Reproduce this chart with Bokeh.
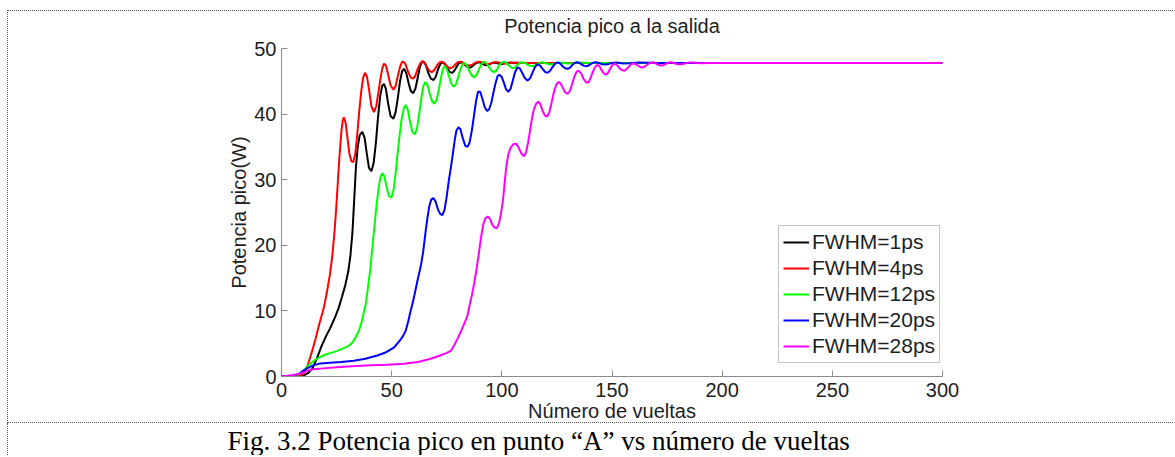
from bokeh.plotting import figure
from bokeh.models import Range1d, Legend, LegendItem, FixedTicker, LinearAxis
from bokeh.layouts import column
from bokeh.embed import file_html
from bokeh.resources import INLINE

# ---------------- data ----------------
x_ticks = [0, 50, 100, 150, 200, 250, 300]
y_ticks = [0, 10, 20, 30, 40, 50]

series_labels = ["FWHM=1ps", "FWHM=4ps", "FWHM=12ps", "FWHM=20ps", "FWHM=28ps"]
series_colors = ["#000000", "#ff0000", "#00ff00", "#0000ff", "#ff00ff"]

turns_1ps = [0, 5, 8, 10, 12, 14, 16, 18, 20, 22, 24, 26, 27.5, 29, 30.3, 31.3, 32.2, 33, 33.8, 34.6, 35.5, 36.7, 37.7, 38.7, 39.7, 40.8, 41.8, 42.8, 43.8, 44.8, 45.7, 46.5, 47.4, 48.4, 49.5, 50.8, 51.8, 52.8, 53.8, 54.7, 55.6, 56.6, 57.7, 58.7, 59.8, 60.8, 61.8, 62.8, 63.6, 64.4, 65.5, 66.7, 67.8, 69, 70, 71, 72, 73, 74.2, 75.4, 76.5, 77.6, 78.6, 79.6, 80.6, 81.7, 82.8, 83.8, 84.9, 85.9, 87, 88, 89.2, 90.3, 91.5, 92.6, 93.8, 95, 96.2, 97.5, 99, 100.5, 102, 104, 106, 110, 300]
power_1ps = [0, 0, 0.05, 0.15, 0.5, 1.2, 2.7, 4.5, 6.0, 7.3, 8.8, 10.5, 12.2, 14, 16, 18.5, 22, 27, 32, 35, 36.8, 37.3, 36.4, 34, 31.8, 31.3, 32.5, 35.5, 39.5, 42.8, 44.3, 44.6, 43.8, 41.6, 39.7, 39.3, 40.3, 42.5, 45, 46.5, 46.9, 46.3, 44.7, 43.5, 43.2, 43.9, 45.5, 47.2, 47.9, 48.0, 47.5, 46.2, 45.4, 45.2, 45.7, 46.8, 47.6, 47.9, 47.6, 46.9, 46.4, 46.3, 46.7, 47.3, 47.8, 47.9, 47.7, 47.3, 47.1, 47.1, 47.4, 47.7, 47.9, 47.85, 47.6, 47.45, 47.5, 47.7, 47.85, 47.8, 47.65, 47.65, 47.8, 47.85, 47.75, 47.8, 47.8]

turns_4ps = [0, 5, 8, 10, 12, 14, 15.5, 17, 19, 20, 21, 22, 23, 24, 24.8, 25.6, 26.4, 27.2, 27.8, 28.3, 29.1, 29.9, 30.8, 31.7, 32.6, 33.5, 34.4, 35.3, 36.2, 37.1, 37.9, 38.8, 39.7, 40.8, 42, 43, 44, 45, 45.8, 46.5, 47.4, 48.4, 49.5, 50.8, 51.8, 52.8, 53.8, 54.6, 55.3, 56.3, 57.4, 58.6, 59.8, 60.8, 61.8, 62.9, 64, 65.1, 66.1, 67.1, 68.2, 69.3, 70.4, 71.5, 72.7, 73.8, 74.8, 75.8, 76.8, 77.9, 79, 80, 81, 82.1, 83.3, 84.5, 85.6, 86.7, 87.7, 88.7, 89.7, 91, 92.2, 93.5, 95, 96.5, 98, 100, 102, 104, 106, 110, 300]
power_4ps = [0, 0, 0.1, 0.4, 1.8, 4.0, 5.8, 7.8, 10.2, 11.8, 13.6, 15.6, 18.2, 21.8, 25.5, 29.8, 34, 37.4, 39, 39.5, 38.7, 36.5, 34, 32.8, 32.7, 34, 37, 40.5, 43.5, 45.6, 46.3, 45.7, 43.8, 41.2, 40.3, 41.2, 43.4, 45.6, 47.0, 47.7, 47.4, 46.0, 44.4, 43.7, 44.3, 45.8, 47.2, 47.9, 48.0, 47.6, 46.5, 45.6, 45.4, 45.9, 46.9, 47.7, 48.1, 47.8, 47.1, 46.6, 46.4, 46.7, 47.3, 47.8, 48.0, 47.8, 47.4, 47.1, 47.0, 47.2, 47.6, 47.9, 48.0, 47.9, 47.6, 47.45, 47.4, 47.55, 47.8, 47.95, 48.0, 47.9, 47.7, 47.6, 47.7, 47.9, 47.9, 47.75, 47.7, 47.8, 47.85, 47.8, 47.8]

turns_12ps = [0, 5, 8, 10, 12, 14, 16, 17.7, 20, 22.5, 25.3, 28, 30, 31.4, 32.6, 33.8, 35.2, 36.5, 37.5, 38.2, 39.1, 40.2, 41.2, 42.2, 43.2, 44.1, 45, 45.8, 46.7, 47.7, 48.8, 49.9, 50.9, 51.8, 52.6, 53.5, 54.5, 55.5, 56.4, 57.3, 58.3, 59.4, 60.5, 61.5, 62.5, 63.5, 64.4, 65.3, 66.2, 67.3, 68.4, 69.5, 70.5, 71.5, 72.4, 73.2, 74, 74.9, 75.9, 77, 78, 79, 80, 81, 82, 82.9, 84, 85.2, 86.3, 87.4, 88.5, 89.7, 90.9, 92, 93.2, 94.3, 95.4, 96.5, 97.6, 98.6, 99.7, 100.8, 102, 103.2, 104.3, 105.3, 106.3, 107.4, 108.4, 109.4, 110.5, 111.7, 112.9, 114, 115.1, 116.2, 117.3, 118.4, 120, 121.5, 123, 124.5, 126, 128, 130, 132, 135, 140, 300]
power_12ps = [0, 0.1, 0.35, 0.9, 1.6, 2.2, 2.7, 3.0, 3.35, 3.6, 3.9, 4.3, 4.6, 4.9, 5.4, 6.1, 7.0, 8.5, 10, 11, 13.2, 16.1, 19.5, 23, 26.3, 28.8, 30.5, 31.0, 30.5, 28.9, 27.5, 27.3, 28.5, 31, 33.7, 36.5, 39.2, 40.9, 41.4, 40.7, 38.9, 37.3, 36.9, 37.8, 40, 42.5, 44.3, 44.9, 44.5, 43.1, 41.9, 41.6, 42.3, 43.9, 45.6, 46.8, 47.3, 47.0, 45.9, 44.7, 44.2, 44.4, 45.4, 46.6, 47.5, 47.8, 47.5, 46.6, 45.9, 45.6, 46.0, 46.9, 47.7, 48.0, 47.7, 47.1, 46.6, 46.4, 46.7, 47.3, 47.8, 48.0, 47.8, 47.4, 47.1, 47.0, 47.2, 47.6, 47.85, 47.9, 47.8, 47.55, 47.35, 47.3, 47.45, 47.7, 47.85, 47.9, 47.75, 47.6, 47.6, 47.75, 47.85, 47.8, 47.7, 47.75, 47.85, 47.8, 47.8]

turns_20ps = [0, 5, 8, 10, 12, 14.5, 17.7, 22, 27, 32.9, 38, 43.5, 47.5, 51, 53.5, 55.2, 56.4, 57.6, 58.6, 59.4, 60.4, 61.7, 63.2, 64.3, 65.3, 66.2, 67.1, 68, 68.9, 69.9, 71, 72, 73, 74, 75, 76, 76.8, 77.7, 78.6, 79.4, 80.3, 81.2, 82.3, 83.4, 84.4, 85.3, 86.3, 87.3, 88.3, 89.2, 90.2, 91.2, 92.3, 93.3, 94.2, 95.2, 96.2, 97.2, 98.1, 98.9, 99.9, 100.9, 101.9, 102.9, 103.9, 104.9, 105.9, 107, 108.1, 109.2, 110.4, 111.7, 112.9, 114, 115.1, 116.2, 117.4, 118.5, 119.7, 120.8, 121.9, 123.1, 124.2, 125.3, 126.5, 127.6, 128.7, 129.9, 131, 132, 133.1, 134.1, 135.2, 136.3, 137.4, 138.5, 139.6, 140.6, 141.7, 142.7, 144, 145.5, 147, 148.5, 150, 152, 155, 158, 162, 170, 300]
power_20ps = [0, 0.15, 0.4, 0.9, 1.3, 1.7, 2.0, 2.1, 2.2, 2.4, 2.7, 3.2, 3.7, 4.4, 5.4, 6.2, 7.0, 8.5, 10, 11, 12.5, 14.6, 16.8, 19, 21.8, 24.1, 26, 27, 27.2, 26.7, 25.5, 24.8, 24.6, 25.4, 27.5, 30, 31.7, 33.8, 36, 37.5, 38.0, 37.7, 36.3, 35.2, 35.0, 35.6, 37.3, 39.6, 42, 43.4, 43.4, 42.3, 41, 40.5, 40.7, 41.7, 43.3, 44.8, 45.8, 46.0, 45.7, 44.8, 43.8, 43.4, 43.8, 45.0, 46.3, 47.1, 47.0, 46.3, 45.5, 45.1, 45.5, 46.4, 47.2, 47.6, 47.4, 46.9, 46.4, 46.3, 46.6, 47.2, 47.7, 47.9, 47.7, 47.3, 47.0, 46.9, 47.1, 47.5, 47.8, 47.9, 47.8, 47.55, 47.35, 47.3, 47.45, 47.7, 47.85, 47.9, 47.8, 47.6, 47.55, 47.65, 47.8, 47.85, 47.7, 47.75, 47.85, 47.8, 47.8]

turns_28ps = [0, 5, 8, 10, 12, 14.5, 17.7, 25, 32, 40.5, 48, 55.6, 62, 67.7, 72, 75, 76.8, 78.3, 79.8, 81.2, 82.6, 83.6, 84.4, 85.4, 86.4, 87.4, 88.6, 89.7, 90.7, 91.6, 92.5, 93.5, 94.5, 95.6, 96.7, 97.7, 98.7, 99.6, 100.5, 101.3, 102.1, 103, 104, 105.2, 106.4, 107.5, 108.7, 109.6, 110.2, 111, 111.9, 112.8, 113.7, 114.6, 115.6, 116.5, 117.5, 118.5, 119.5, 120.5, 121.5, 122.5, 123.5, 124.6, 125.6, 126.6, 127.7, 128.8, 129.9, 131, 132, 133, 134, 134.9, 136, 137.2, 138.4, 139.5, 140.5, 141.5, 142.4, 143.3, 144.3, 145.3, 146.3, 147.2, 148.2, 149.2, 150.2, 151.1, 152.2, 153.4, 154.5, 155.6, 156.7, 157.8, 158.8, 159.8, 160.9, 162, 163, 164, 165.1, 166.3, 167.4, 168.5, 169.5, 170.5, 171.6, 172.6, 173.6, 174.7, 175.8, 176.8, 178, 179.3, 180.4, 181.4, 183, 185, 187, 190, 195, 300]
power_28ps = [0, 0.2, 0.4, 0.6, 0.9, 1.1, 1.2, 1.4, 1.55, 1.7, 1.8, 1.95, 2.2, 2.7, 3.2, 3.6, 3.9, 4.7, 5.7, 6.7, 7.8, 8.6, 9.3, 10.9, 12.4, 14.1, 16.5, 19.1, 21.5, 23.2, 24.1, 24.4, 24.1, 23.2, 22.7, 22.6, 23.3, 24.8, 26.8, 29.6, 32.2, 33.9, 34.9, 35.4, 35.5, 35.0, 34.1, 33.7, 33.6, 34.2, 35.6, 37.5, 39.4, 40.8, 41.6, 41.9, 41.5, 40.5, 39.8, 39.6, 40.2, 41.6, 43.2, 44.4, 44.9, 44.7, 44, 43.3, 43.1, 43.6, 44.7, 45.8, 46.5, 46.6, 46.2, 45.3, 44.8, 44.9, 45.7, 46.6, 47.2, 47.5, 47.3, 46.7, 46.2, 46.0, 46.3, 46.9, 47.5, 47.7, 47.5, 47.0, 46.7, 46.6, 46.9, 47.3, 47.65, 47.7, 47.6, 47.35, 47.15, 47.1, 47.3, 47.6, 47.8, 47.9, 47.8, 47.6, 47.45, 47.4, 47.5, 47.7, 47.85, 47.9, 47.8, 47.65, 47.6, 47.6, 47.7, 47.85, 47.85, 47.75, 47.8, 47.8]

all_turns = [turns_1ps, turns_4ps, turns_12ps, turns_20ps, turns_28ps]
all_power = [power_1ps, power_4ps, power_12ps, power_20ps, power_28ps]

title_text = "Potencia pico a la salida"
x_label = "Número de vueltas"
y_label = "Potencia pico(W)"
caption_text = "Fig. 3.2 Potencia pico en punto \u201cA\u201d vs número de vueltas"

# ---------------- styling ----------------
SANS = "Liberation Sans"
SERIF = "Liberation Serif"
TXT = "#1e1e1e"
AXC = "#8c8c8c"
DOT = "1px dotted #555555"
W = 1166

p = figure(width=W, height=413, x_range=Range1d(0, 300), y_range=Range1d(0, 50),
           output_backend="svg", toolbar_location=None,
           min_border_left=273, min_border_right=232, min_border_top=35, min_border_bottom=48)
p.styles = {"border-top": DOT, "border-left": DOT, "border-bottom": DOT}
p.outline_line_color = None
p.xgrid.visible = False
p.ygrid.visible = False
p.background_fill_color = "white"
p.border_fill_color = "white"

bottom_axis = p.below[0]
left_axis = p.left[0]
bottom_axis.ticker = FixedTicker(ticks=x_ticks)
left_axis.ticker = FixedTicker(ticks=y_ticks)
for ax in (bottom_axis, left_axis):
    ax.axis_line_color = AXC
    ax.major_tick_line_color = AXC
    ax.minor_tick_line_color = None
    ax.major_tick_in = 6
    ax.major_tick_out = 0
    ax.major_label_text_font = SANS
    ax.major_label_text_font_size = "20px"
    ax.major_label_text_color = TXT
    ax.axis_label_text_font = SANS
    ax.axis_label_text_font_size = "20px"
    ax.axis_label_text_font_style = "normal"
    ax.axis_label_text_color = TXT
bottom_axis.axis_label = x_label
left_axis.axis_label = y_label
bottom_axis.major_label_standoff = 6
left_axis.major_label_standoff = 5
bottom_axis.axis_label_standoff = 0
left_axis.axis_label_standoff = 1

# chart title, carried by a tick-less axis above the frame
title_axis = LinearAxis(ticker=FixedTicker(ticks=[]), axis_label=title_text)
title_axis.axis_line_color = None
title_axis.major_tick_line_color = None
title_axis.minor_tick_line_color = None
title_axis.major_tick_in = 0
title_axis.major_tick_out = 0
title_axis.major_label_standoff = 0
title_axis.major_label_text_font_size = "0px"
title_axis.major_label_text_color = None
title_axis.axis_label_standoff = 12
title_axis.axis_label_text_font = SANS
title_axis.axis_label_text_font_size = "20px"
title_axis.axis_label_text_font_style = "normal"
title_axis.axis_label_text_color = TXT
p.add_layout(title_axis, "above")

items = []
for xs, ys, lab, col in zip(all_turns, all_power, series_labels, series_colors):
    r = p.line(xs, ys, line_color=col, line_width=2)
    items.append(LegendItem(label=lab, renderers=[r]))

legend = Legend(items=items, location=(497, 13))
legend.label_text_font = SANS
legend.label_text_font_size = "21px"
legend.label_text_color = TXT
legend.border_line_color = AXC
legend.border_line_width = 1
legend.background_fill_color = "white"
legend.background_fill_alpha = 1
legend.glyph_width = 26
legend.glyph_height = 22
legend.label_height = 22
legend.label_standoff = 3
legend.spacing = 2
legend.padding = 4
legend.margin = 0
p.add_layout(legend)

# figure caption below the chart
cap = figure(width=W, height=32, output_backend="svg", toolbar_location=None,
             min_border_left=273, min_border_right=232, min_border_top=0, min_border_bottom=0,
             x_axis_location=None, y_axis_location=None, title=caption_text)
cap.styles = {"border-left": DOT}
cap.outline_line_color = None
cap.xgrid.visible = False
cap.ygrid.visible = False
cap.title.text_font = SERIF
cap.title.text_font_size = "27px"
cap.title.text_font_style = "normal"
cap.title.text_color = "#000000"
cap.title.align = "left"
cap.title.offset = -54
cap.title.standoff = 0

layout = column(p, cap)
layout.styles = {"margin-left": "7px", "margin-top": "10px"}

open("out.html", "w").write(file_html(layout, INLINE))
